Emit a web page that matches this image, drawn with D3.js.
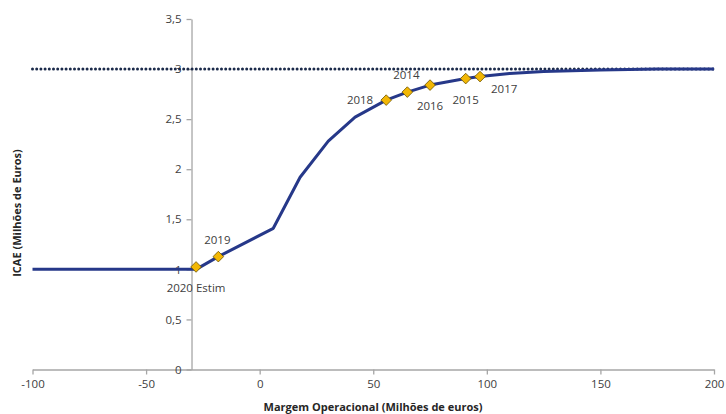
<!DOCTYPE html>
<html><head><meta charset="utf-8">
<script src="https://cdn.jsdelivr.net/npm/d3@7"></script>
<style>
body{margin:0;background:#fff;}
svg{display:block;font-family:"Open Sans",sans-serif;}
</style></head>
<body>
<svg id="c" width="726" height="414"></svg>
<script>
// Curve (Margem Operacional, ICAE)
const curveX = [-100, -28, -18.2, 6, 17.8, 30.2, 42, 55.7, 65, 75, 90.7, 97, 110, 125, 150, 175, 200];
const curveY = [1.0, 1.0, 1.127, 1.41, 1.92, 2.28, 2.52, 2.69, 2.77, 2.84, 2.905, 2.925, 2.955, 2.975, 2.99, 3.0, 3.0];
// Yearly points
const yearLabels = ["2020 Estim", "2019", "2018", "2014", "2016", "2015", "2017"];
const yearX = [-28, -18.2, 55.7, 65, 75, 90.7, 97];
const yearY = [1.024, 1.127, 2.69, 2.77, 2.84, 2.905, 2.925];
const labelPos = ["below", "above", "left", "above", "below", "below", "belowright"];
// Reference line
const refY = 3;
// Ticks
const xTicks = [-100, -50, 0, 50, 100, 150, 200];
const yTicks = [0, 0.5, 1, 1.5, 2, 2.5, 3, 3.5];
const xTitle = "Margem Operacional (Milhões de euros)";
const yTitle = "ICAE (Milhões de Euros)";

const svg = d3.select("#c");
const x = d3.scaleLinear().domain([-100, 200]).range([32.5, 714]);
const y = d3.scaleLinear().domain([0, 3.5]).range([369.5, 19]);
const fmt = d => String(d).replace(".", ",");
const axisColor = "#a6a6a6", textColor = "#404040";

// x axis
const gx = svg.append("g").attr("transform", `translate(0,${y(0)})`)
  .call(d3.axisBottom(x).tickValues(xTicks).tickFormat(fmt).tickSizeInner(5).tickSizeOuter(0).tickPadding(5));
// y axis at x=-30
const gy = svg.append("g").attr("transform", `translate(${x(-30)},0)`)
  .call(d3.axisLeft(y).tickValues(yTicks).tickFormat(fmt).tickSizeInner(5).tickSizeOuter(0).tickPadding(5));
[gx, gy].forEach(g => {
  g.select(".domain").attr("stroke", axisColor).attr("stroke-width", 1.3);
  g.selectAll(".tick line").attr("stroke", axisColor).attr("stroke-width", 1.3);
  g.selectAll(".tick text").attr("fill", textColor).style("font-size", "11.5px").style("font-family", "'Open Sans',sans-serif");
});

// dotted reference line
svg.append("line")
  .attr("x1", x(-100)).attr("x2", x(200)).attr("y1", y(refY)).attr("y2", y(refY))
  .attr("stroke", "#1b2a4a").attr("stroke-width", 3)
  .attr("stroke-dasharray", "0,4.2").attr("stroke-linecap", "round");

// curve
const pts = curveX.map((v, i) => [v, curveY[i]]);
svg.append("path").datum(pts)
  .attr("d", d3.line().x(d => x(d[0])).y(d => y(d[1])))
  .attr("fill", "none").attr("stroke", "#263889").attr("stroke-width", 3)
  .attr("stroke-linejoin", "round");

// diamonds
const yp = yearX.map((v, i) => ({x: v, y: yearY[i], label: yearLabels[i], pos: labelPos[i]}));
svg.append("g").selectAll("path").data(yp).join("path")
  .attr("transform", d => `translate(${x(d.x)},${y(d.y)})`)
  .attr("d", d3.symbol(d3.symbolDiamond2, 72))
  .attr("fill", "#f2b705").attr("stroke", "#6b5200").attr("stroke-width", 0.8);

// labels
const off = {below: [0, 25, "middle"], above: [-1, -13, "middle"], left: [-13, 3.5, "end"], belowright: [11, 16, "start"]};
svg.append("g").selectAll("text").data(yp).join("text")
  .attr("x", d => x(d.x) + off[d.pos][0])
  .attr("y", d => y(d.y) + off[d.pos][1])
  .attr("text-anchor", d => off[d.pos][2])
  .attr("fill", textColor).style("font-size", "11.5px")
  .text(d => d.label);

// axis titles
svg.append("text").attr("x", 373).attr("y", 411).attr("text-anchor", "middle")
  .attr("fill", "#262626").style("font-size", "11px").style("font-weight", "bold").text(xTitle);
svg.append("text").attr("transform", "translate(21,213) rotate(-90)").attr("text-anchor", "middle")
  .attr("fill", "#262626").style("font-size", "11px").style("font-weight", "bold").text(yTitle);
</script>
</body></html>
